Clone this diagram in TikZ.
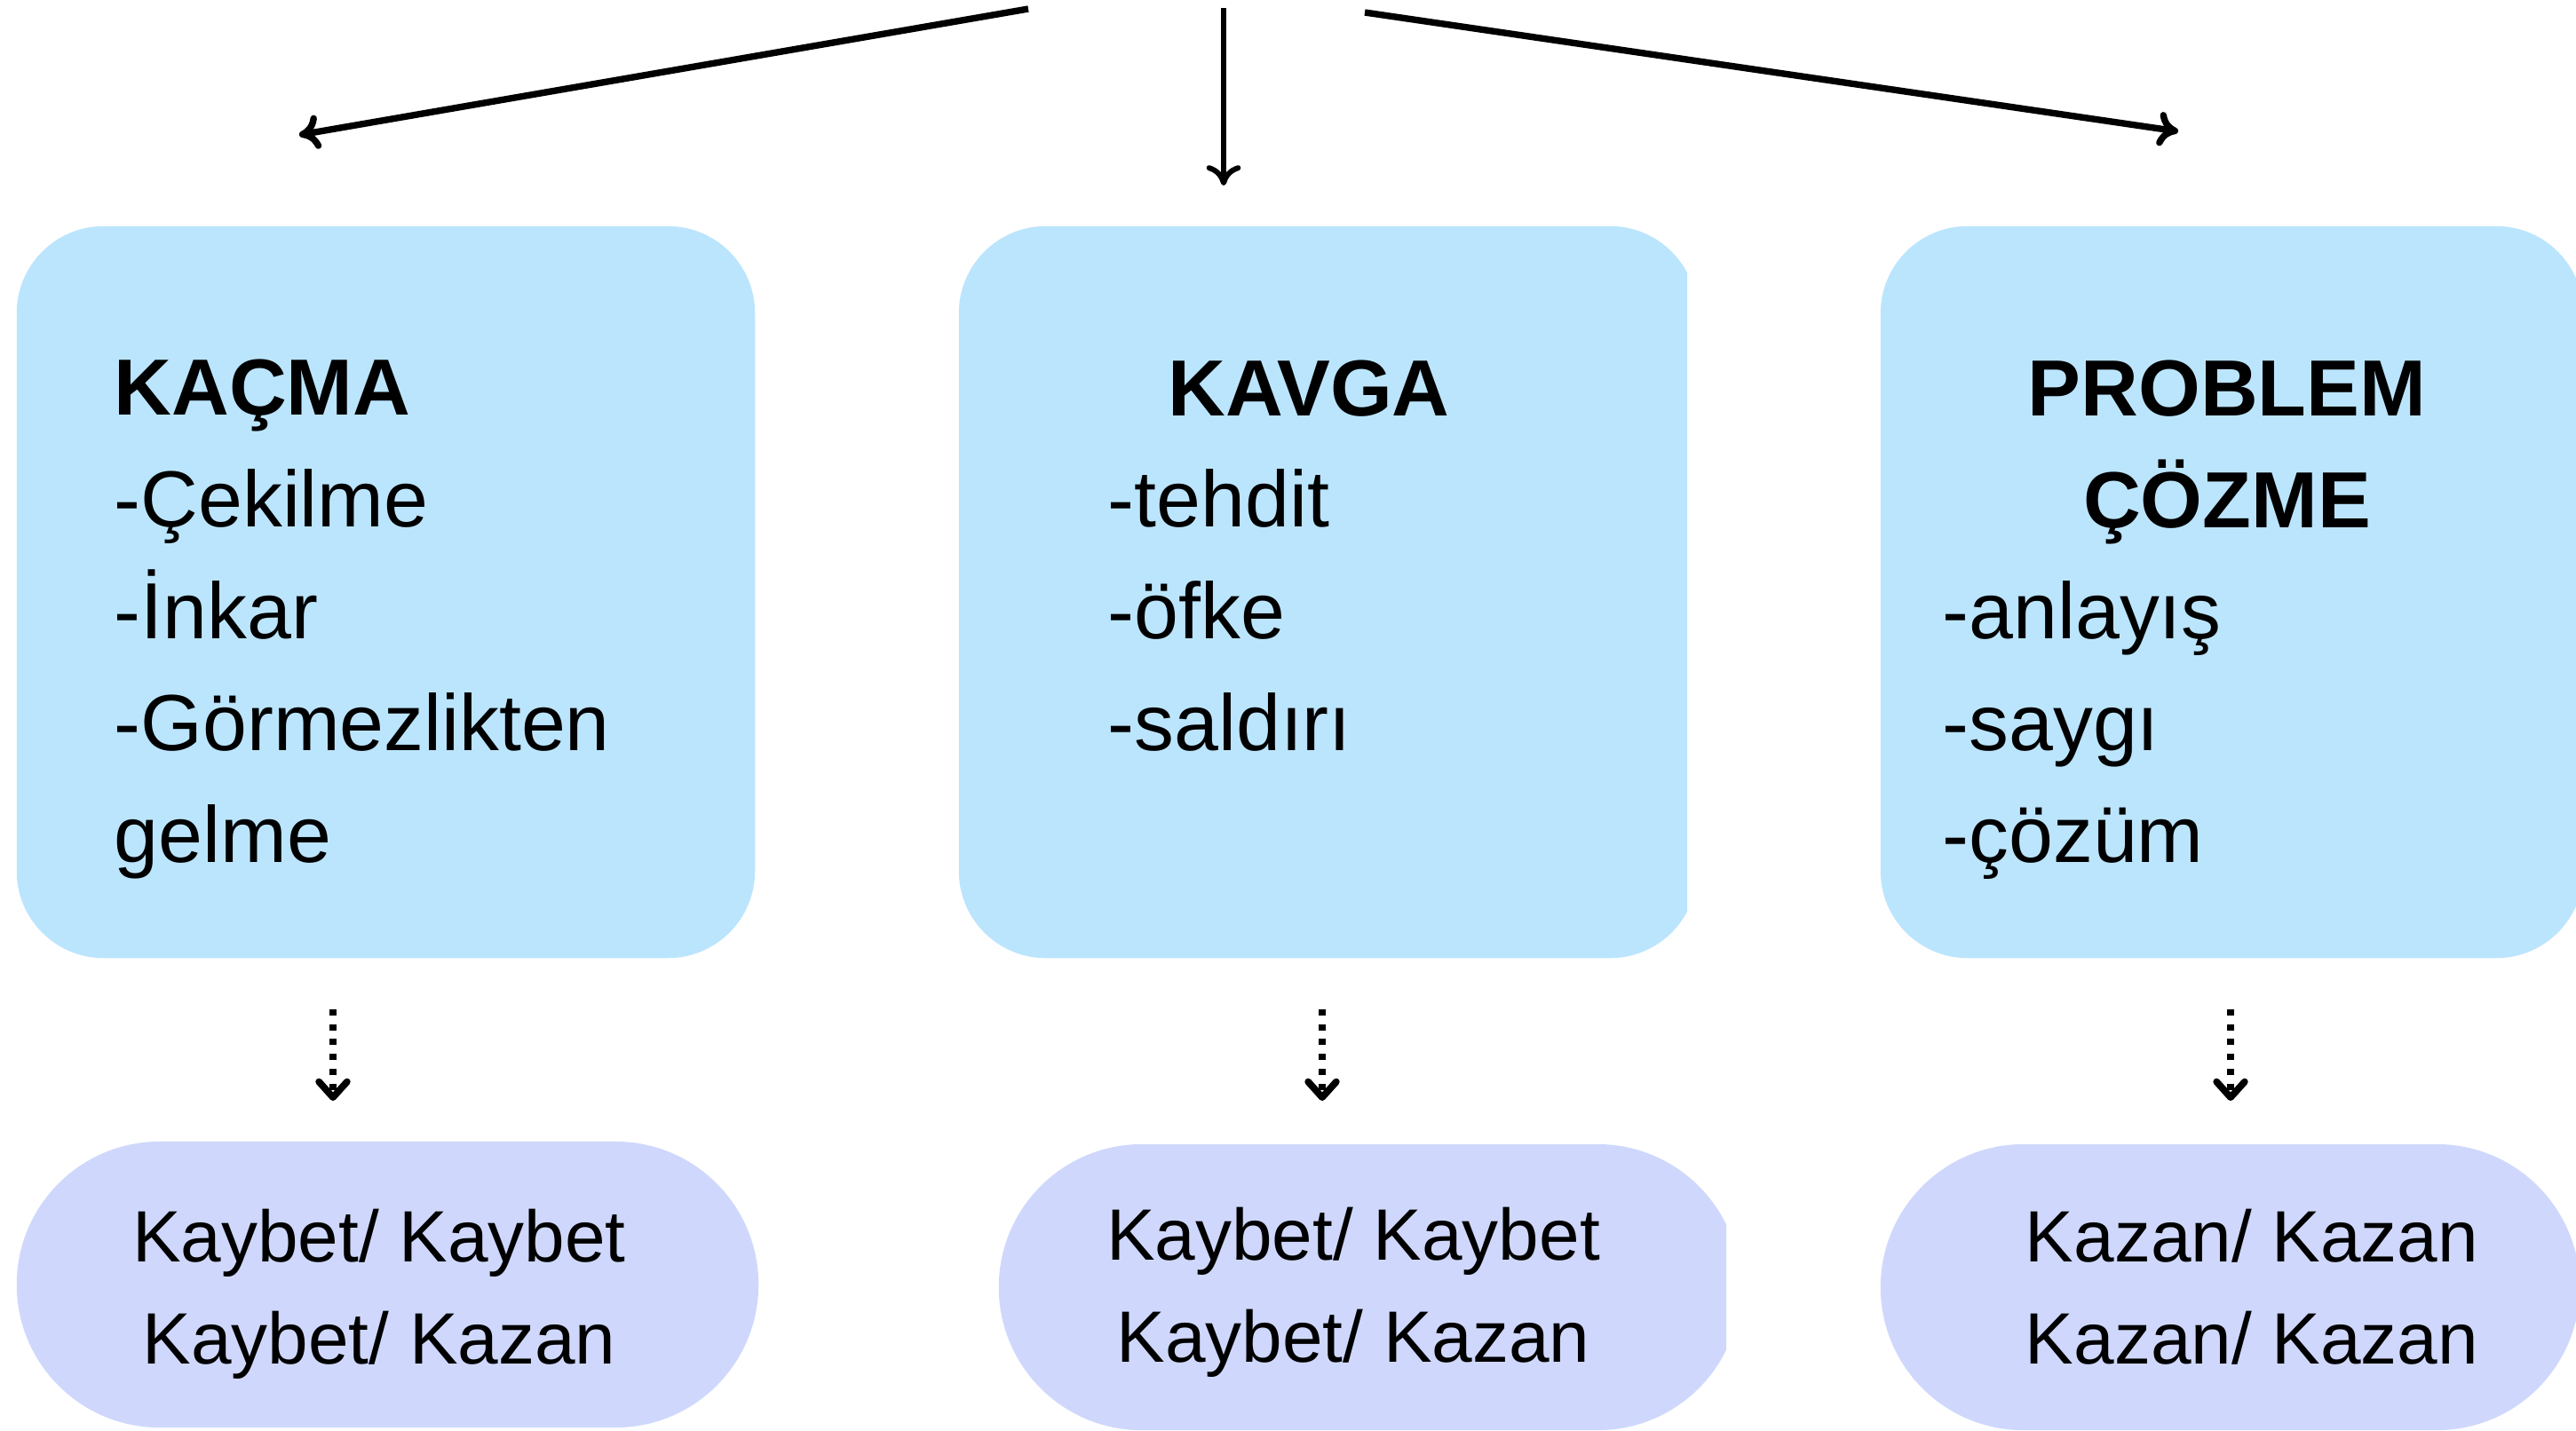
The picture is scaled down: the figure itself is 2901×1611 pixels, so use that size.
\documentclass[tikz,border=0pt]{standalone}
\usepackage{fontspec}
\setmainfont{Liberation Sans}
\usetikzlibrary{arrows.meta}

\definecolor{skyfill}{HTML}{BBE5FD}
\definecolor{lilacfill}{HTML}{CFD8FC}

\tikzset{
  topbox/.style={fill=skyfill, rounded corners=0.98cm, minimum height=8.24cm, inner sep=0pt},
  resbox/.style={fill=lilacfill, rounded corners=1.61cm, minimum height=3.22cm, inner sep=0pt},
  headtxt/.style={font=\fontsize{25.5}{35.8}\selectfont, inner sep=0pt},
  restxt/.style={font=\fontsize{23.3}{32.7}\selectfont, align=center, inner sep=0pt, anchor=base},
  mainarr/.style={line width=2.1pt, -{Computer Modern Rightarrow[length=6.5pt,width=11pt]}},
  resarr/.style={line width=2.2pt, dash pattern=on 2pt off 2.75pt, -{Straight Barb[length=5pt,width=9pt,round]}}
}

\begin{document}
\begin{tikzpicture}[x=0.01cm,y=-0.01cm]
  \useasboundingbox[fill=white] (0,0) rectangle (2901,1611);
  \clip (0,0) rectangle (2901,1611);

  % upper boxes
  \node[topbox, minimum width=8.31cm] (kacma) at (434.5,667) {};
  \begin{scope}
    \clip (1000,200) rectangle (1900,1100);
    \node[topbox, minimum width=8.31cm] (kavga) at (1495.5,667) {};
  \end{scope}
  \node[topbox, minimum width=7.91cm] (cozme) at (2513.5,667) {};

  % base = baseline of the last line
  \node[headtxt, align=left, anchor=base west] (kacma-txt) at (128,971)
    {\textbf{KAÇMA}\\-Çekilme\\-İnkar\\-Görmezlikten\\gelme};
  \node[headtxt, anchor=base] (kavga-head) at (1474,468) {\textbf{KAVGA}};
  \node[headtxt, align=left, anchor=base west] (kavga-txt) at (1247,845)
    {-tehdit\\-öfke\\-saldırı};
  \node[headtxt, align=center, anchor=base] (cozme-head) at (2508,594)
    {\textbf{PROBLEM}\\\textbf{ÇÖZME}};
  \node[headtxt, align=left, anchor=base west] (cozme-txt) at (2187,971)
    {-anlayış\\-saygı\\-çözüm};

  % result boxes
  \node[resbox, minimum width=8.35cm] (res-1) at (436.5,1447) {};
  \begin{scope}
    \clip (1000,1200) rectangle (1944,1700);
    \node[resbox, minimum width=8.35cm] (res-2) at (1542.5,1450) {};
  \end{scope}
  \node[resbox, minimum width=7.87cm] (res-3) at (2511.5,1450) {};

  \node[restxt] (res-1-txt) at (427,1536) {Kaybet/ Kaybet\\Kaybet/ Kazan};
  \node[restxt] (res-2-txt) at (1524,1534) {Kaybet/ Kaybet\\Kaybet/ Kazan};
  \node[restxt] (res-3-txt) at (2536,1536) {Kazan/ Kazan\\Kazan/ Kazan};

  % top arrows
  \coordinate (top-l) at (1158,10);
  \coordinate (tip-l) at (337,152);
  \coordinate (top-c) at (1378,9);
  \coordinate (tip-c) at (1378,209);
  \coordinate (top-r) at (1537,14);
  \coordinate (tip-r) at (2453,148);
  \draw[mainarr] (top-l) -- (tip-l);
  \draw[mainarr, line width=1.7pt] (top-c) -- (tip-c);
  \draw[mainarr] (top-r) -- (tip-r);

  % dotted arrows
  \coordinate (dot-1a) at (375,1137);
  \coordinate (dot-1b) at (375,1240);
  \coordinate (dot-2a) at (1489,1137);
  \coordinate (dot-2b) at (1489,1240);
  \coordinate (dot-3a) at (2512,1137);
  \coordinate (dot-3b) at (2512,1240);
  \draw[resarr] (dot-1a) -- (dot-1b);
  \draw[resarr] (dot-2a) -- (dot-2b);
  \draw[resarr] (dot-3a) -- (dot-3b);
\end{tikzpicture}
\end{document}
